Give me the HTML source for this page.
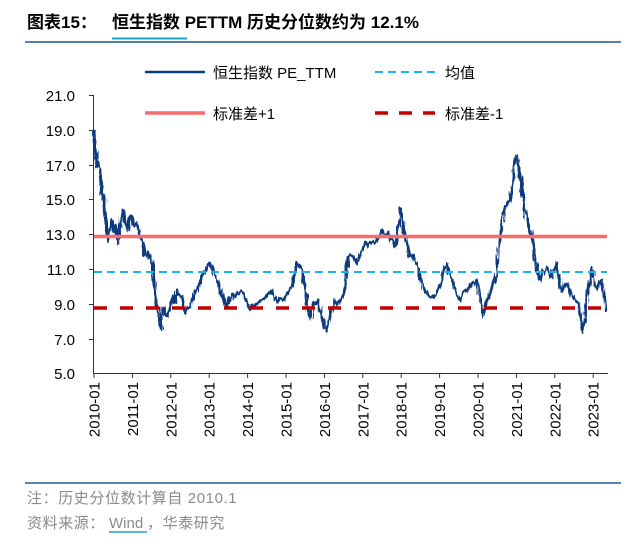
<!DOCTYPE html>
<html><head><meta charset="utf-8"><style>
body{margin:0;background:#fff;width:637px;height:543px;overflow:hidden}
svg{display:block;font-family:"Liberation Sans","Noto Sans CJK SC",sans-serif}
</style></head><body>
<svg width="637" height="543" xmlns="http://www.w3.org/2000/svg">
<defs>
<filter id="rough" x="-5%" y="-10%" width="110%" height="120%" filterUnits="objectBoundingBox">
<feTurbulence type="fractalNoise" baseFrequency="0.45 0.08" numOctaves="2" seed="3" result="n"/>
<feDisplacementMap in="SourceGraphic" in2="n" scale="6" xChannelSelector="R" yChannelSelector="G"/>
</filter>
</defs>
<text x="27" y="28" font-size="17" font-weight="bold" fill="#000">图表15：</text>
<text x="112" y="28" font-size="17" font-weight="bold" fill="#000">恒生指数 PETTM 历史分位数约为 12.1%</text>
<line x1="112" y1="38.5" x2="187" y2="38.5" stroke="#1aa9c8" stroke-width="2"/>
<line x1="25" y1="42" x2="621" y2="42" stroke="#5b7fad" stroke-width="2"/>
<g stroke="#333" stroke-width="1">
<line x1="93.5" y1="95" x2="93.5" y2="373"/>
<line x1="93" y1="373.5" x2="608" y2="373.5"/>
<line x1="89" y1="95.5" x2="93" y2="95.5"/><line x1="89" y1="130.5" x2="93" y2="130.5"/><line x1="89" y1="165.5" x2="93" y2="165.5"/><line x1="89" y1="199.5" x2="93" y2="199.5"/><line x1="89" y1="234.5" x2="93" y2="234.5"/><line x1="89" y1="269.5" x2="93" y2="269.5"/><line x1="89" y1="304.5" x2="93" y2="304.5"/><line x1="89" y1="339.5" x2="93" y2="339.5"/>
</g>
<g font-size="15" fill="#000" text-anchor="end">
<text x="75" y="101">21.0</text><text x="75" y="136">19.0</text><text x="75" y="171">17.0</text><text x="75" y="205">15.0</text><text x="75" y="240">13.0</text><text x="75" y="275">11.0</text><text x="75" y="310">9.0</text><text x="75" y="345">7.0</text><text x="75" y="379">5.0</text>
</g>
<g stroke="#333">
<line x1="94" y1="373" x2="94" y2="378"/><line x1="132.4" y1="373" x2="132.4" y2="378"/><line x1="170.8" y1="373" x2="170.8" y2="378"/><line x1="209.2" y1="373" x2="209.2" y2="378"/><line x1="247.6" y1="373" x2="247.6" y2="378"/><line x1="286" y1="373" x2="286" y2="378"/><line x1="324.4" y1="373" x2="324.4" y2="378"/><line x1="362.8" y1="373" x2="362.8" y2="378"/><line x1="401.2" y1="373" x2="401.2" y2="378"/><line x1="439.6" y1="373" x2="439.6" y2="378"/><line x1="478" y1="373" x2="478" y2="378"/><line x1="516.4" y1="373" x2="516.4" y2="378"/><line x1="554.8" y1="373" x2="554.8" y2="378"/><line x1="593.2" y1="373" x2="593.2" y2="378"/>
</g>
<g font-size="15" fill="#000" text-anchor="end">
<text transform="translate(99.5,382) rotate(-90)">2010-01</text>
<text transform="translate(137.9,382) rotate(-90)">2011-01</text>
<text transform="translate(176.3,382) rotate(-90)">2012-01</text>
<text transform="translate(214.7,382) rotate(-90)">2013-01</text>
<text transform="translate(253.1,382) rotate(-90)">2014-01</text>
<text transform="translate(291.5,382) rotate(-90)">2015-01</text>
<text transform="translate(329.9,382) rotate(-90)">2016-01</text>
<text transform="translate(368.3,382) rotate(-90)">2017-01</text>
<text transform="translate(406.7,382) rotate(-90)">2018-01</text>
<text transform="translate(445.1,382) rotate(-90)">2019-01</text>
<text transform="translate(483.5,382) rotate(-90)">2020-01</text>
<text transform="translate(521.9,382) rotate(-90)">2021-01</text>
<text transform="translate(560.3,382) rotate(-90)">2022-01</text>
<text transform="translate(598.7,382) rotate(-90)">2023-01</text>
</g>
<polyline filter="url(#rough)" fill="none" stroke="#0b3a7e" stroke-width="2.8" stroke-linejoin="round" points="94,130 95,145 96,160 97,167 98,162 100,170 101,185 103,200 104,195 105,215 107,230 108,242 110,228 112,220 114,232 115,225 117,230 118,243 120,228 122,215 123,210 125,222 127,230 129,222 132,217 134,226 137,223 139,232 140,237 142,240 143,243 145,255 147,257 149,252 152,263 153,272 155,290 156,300 158,310 159,318 161,330 162,315 163,307 165,314 168,317 170,305 173,297 175,302 177,290 179,295 182,297 184,305 185,313 187,309 190,307 192,300 195,295 197,290 200,280 203,273 206,270 208,264 210,263 212,268 214,274 217,280 219,286 221,292 223,297 225,303 227,307 229,298 231,302 233,293 236,296 240,292 243,293 246,300 248,306 250,310 252,304 255,306 257,303 260,301 263,300 266,296 270,292 272,290 274,296 277,303 280,298 283,300 287,293 290,290 293,283 295,270 297,263 299,265 302,270 304,283 307,297 308,310 310,320 311,312 313,303 315,305 318,300 320,310 323,320 324,327 326,332 328,325 330,317 332,307 335,300 337,304 340,300 343,296 345,290 346,275 348,257 350,255 353,257 355,260 357,263 360,255 362,250 365,243 368,247 370,244 373,243 376,240 380,235 383,230 386,236 388,233 390,237 393,242 395,247 397,240 399,222 401,208 403,222 405,237 408,248 410,257 413,256 415,262 417,263 419,272 420,280 423,287 426,292 428,296 430,297 433,297 435,295 437,293 440,285 443,272 445,268 447,263 449,272 451,278 453,283 455,290 458,296 460,300 463,294 465,292 467,290 470,286 473,284 477,280 479,290 481,302 483,317 485,308 487,300 490,292 493,285 495,280 497,273 498,255 499,245 500,237 502,222 503,213 505,208 508,204 510,200 511,192 513,183 514,170 516,155 517,158 518,160 520,175 522,190 524,200 525,210 527,220 530,228 532,237 534,248 535,260 537,270 540,280 543,272 545,270 547,267 549,272 552,277 554,270 557,263 558,272 560,283 561,290 562,290 565,285 567,283 570,292 573,297 575,300 578,303 580,315 582,326 583,333 585,315 587,297 589,285 592,267 594,278 597,290 599,284 601,280 603,290 605,300 606,312"/>
<line x1="94" y1="236.5" x2="607" y2="236.5" stroke="#f76c6c" stroke-width="3.5"/>
<line x1="94" y1="272" x2="607" y2="272" stroke="#1cb3ef" stroke-width="2" stroke-dasharray="8,5"/>
<line x1="94" y1="308" x2="607" y2="308" stroke="#c00000" stroke-width="3.5" stroke-dasharray="13,13"/>
<g font-size="15" fill="#000">
<line x1="145" y1="72" x2="205" y2="72" stroke="#0b3a7e" stroke-width="2.6"/>
<text x="213" y="78">恒生指数 PE_TTM</text>
<line x1="375" y1="72" x2="435" y2="72" stroke="#1cb3ef" stroke-width="2" stroke-dasharray="8,5"/>
<text x="445" y="78">均值</text>
<line x1="145" y1="113" x2="205" y2="113" stroke="#f76c6c" stroke-width="3.5"/>
<text x="213" y="119">标准差+1</text>
<line x1="375" y1="113" x2="435" y2="113" stroke="#c00000" stroke-width="3.5" stroke-dasharray="13,11"/>
<text x="445" y="119">标准差-1</text>
</g>
<line x1="25" y1="483" x2="621" y2="483" stroke="#5b7fad" stroke-width="2"/>
<g font-size="15" fill="#8a8a8a" letter-spacing="0.6">
<text x="27" y="503">注：历史分位数计算自 2010.1</text>
<text x="27" y="528">资料来源：</text>
<text x="109" y="528" letter-spacing="0">Wind</text>
<text x="147" y="528">，华泰研究</text>
</g>
<line x1="109" y1="532" x2="147" y2="532" stroke="#1aa9c8" stroke-width="1.5"/>
</svg>
</body></html>
